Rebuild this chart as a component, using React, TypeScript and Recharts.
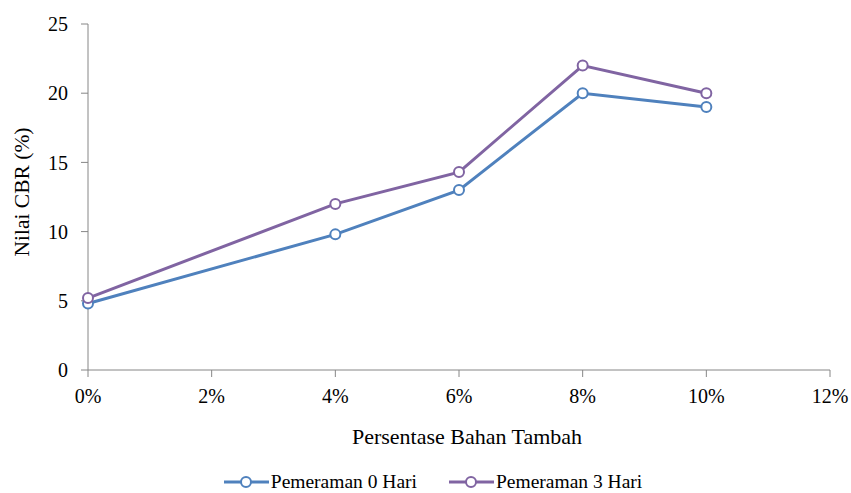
import { LineChart, Line, XAxis, YAxis, Legend } from "recharts";

const percentages = [0, 4, 6, 8, 10];
const cured0Days = [4.8, 9.8, 13, 20, 19];
const cured3Days = [5.2, 12, 14.3, 22, 20];
const xTicks = [0, 2, 4, 6, 8, 10, 12];
const yTicks = [0, 5, 10, 15, 20, 25];

const seriesNames = ["Pemeraman 0 Hari", "Pemeraman 3 Hari"];
const seriesColors = ["#4f81bd", "#8064a2"];

const chartData = percentages.map((p, i) => ({
  pct: p,
  d0: cured0Days[i],
  d3: cured3Days[i],
}));

const font = "Liberation Serif, serif";

const LegendContent = () => (
  <div
    style={{
      height: 16,
      display: "flex",
      justifyContent: "center",
      alignItems: "center",
      gap: 32,
      paddingLeft: 36,
      fontFamily: font,
      fontSize: 19.5,
      lineHeight: "20px",
      color: "#000",
    }}
  >
    {seriesNames.map((name, i) => (
      <div key={name} style={{ display: "flex", alignItems: "center" }}>
        <svg width={45} height={14}>
          <line x1={0} y1={7} x2={45} y2={7} stroke={seriesColors[i]} strokeWidth={3} />
          <circle cx={22} cy={7} r={5} fill="#fff" stroke={seriesColors[i]} strokeWidth={2} />
        </svg>
        <span style={{ marginLeft: 2 }}>{name}</span>
      </div>
    ))}
  </div>
);

const XTitle = () => (
  <text x={467} y={436} textAnchor="middle" dominantBaseline="central" fill="#000" fontSize={22} fontFamily={font}>
    Persentase Bahan Tambah
  </text>
);

const YTitle = () => (
  <text
    x={22}
    y={192}
    transform="rotate(-90 22 192)"
    textAnchor="middle"
    dominantBaseline="central"
    fill="#000"
    fontSize={21.5}
    fontFamily={font}
  >
    Nilai CBR (%)
  </text>
);

export default function App() {
  return (
    <div style={{ position: "absolute", left: 0, top: 0, background: "#fff" }}>
      <LineChart width={851} height={493} data={chartData} margin={{ top: 24, right: 21, left: 0, bottom: 0 }}>
        <XAxis
          dataKey="pct"
          type="number"
          domain={[0, 12]}
          ticks={xTicks}
          tickFormatter={(v) => `${v}%`}
          stroke="#868686"
          tickSize={7}
          tickMargin={12}
          tick={{ fill: "#000", fontSize: 20, fontFamily: font }}
          height={107}
          label={<XTitle />}
        />
        <YAxis
          type="number"
          domain={[0, 25]}
          ticks={yTicks}
          stroke="#868686"
          tickSize={7}
          tickMargin={13}
          width={88}
          tick={{ fill: "#000", fontSize: 20, fontFamily: font }}
          label={<YTitle />}
        />
        <Legend verticalAlign="bottom" content={<LegendContent />} wrapperStyle={{ bottom: 3 }} />
        <Line
          type="linear"
          dataKey="d0"
          name={seriesNames[0]}
          stroke={seriesColors[0]}
          strokeWidth={3}
          dot={{ r: 5, fill: "#fff", stroke: seriesColors[0], strokeWidth: 2 }}
          isAnimationActive={false}
        />
        <Line
          type="linear"
          dataKey="d3"
          name={seriesNames[1]}
          stroke={seriesColors[1]}
          strokeWidth={3}
          dot={{ r: 5, fill: "#fff", stroke: seriesColors[1], strokeWidth: 2 }}
          isAnimationActive={false}
        />
      </LineChart>
    </div>
  );
}
